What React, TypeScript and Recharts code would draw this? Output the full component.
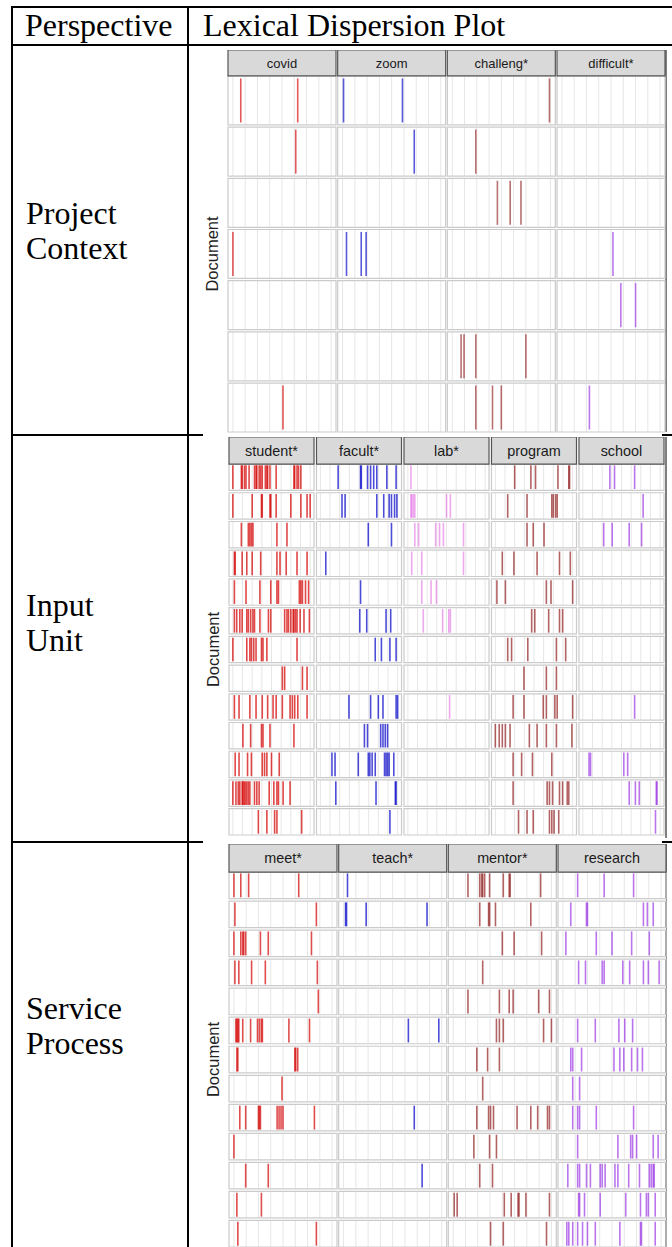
import React from "react";
import { ScatterChart, Scatter, XAxis, YAxis, CartesianGrid, ReferenceArea } from "recharts";

// ---------- table text ----------
const headerLabels = ["Perspective", "Lexical Dispersion Plot"];
const perspectiveLines = [["Project", "Context"], ["Input", "Unit"], ["Service", "Process"]];
const yAxisTitle = "Document";

// ---------- keywords ----------
const projectWords = ["covid", "zoom", "challeng*", "difficult*"];
const inputWords = ["student*", "facult*", "lab*", "program", "school"];
const serviceWords = ["meet*", "teach*", "mentor*", "research"];

// ---------- relative token positions (per document) ----------
// Project Context
const covidDocs = [[0.08, 0.66], [0.64], [], [0.0], [], [], [0.51]];
const zoomDocs = [[0.01, 0.61], [0.73], [], [0.04, 0.19, 0.24], [], [], []];
const challengDocs = [[0.99], [0.24], [0.46, 0.59, 0.7], [], [], [0.09, 0.12, 0.24, 0.75], [0.24, 0.41, 0.5]];
const difficultDocs = [[], [], [], [0.52], [0.6, 0.75], [], [0.28]];

// Input Unit
const studentDocs = [
  [0.0, 0.11, 0.12, 0.15, 0.17, 0.21, 0.28, 0.3, 0.31, 0.34, 0.36, 0.38, 0.42, 0.44, 0.45, 0.48, 0.56, 0.79, 0.8, 0.83, 0.85, 0.88],
  [0.0, 0.25, 0.37, 0.38, 0.48, 0.49, 0.56, 0.75, 0.88, 0.96, 1.0],
  [0.11, 0.2, 0.22, 0.24, 0.26, 0.57, 0.7],
  [0.02, 0.03, 0.12, 0.18, 0.25, 0.36, 0.57, 0.61, 0.69, 0.83, 0.96],
  [0.02, 0.17, 0.35, 0.49, 0.57, 0.59, 0.86, 0.88, 0.9, 0.94, 0.98],
  [0.02, 0.05, 0.09, 0.12, 0.18, 0.2, 0.23, 0.26, 0.28, 0.35, 0.46, 0.49, 0.67, 0.7, 0.72, 0.75, 0.78, 0.79, 0.81, 0.83, 0.87, 0.92, 0.99],
  [0.0, 0.18, 0.22, 0.24, 0.27, 0.3, 0.37, 0.39, 0.44, 0.83],
  [0.64, 0.67, 0.9, 0.96],
  [0.02, 0.08, 0.22, 0.3, 0.38, 0.45, 0.52, 0.56, 0.64, 0.74, 0.77, 0.8, 0.84, 0.96],
  [0.13, 0.23, 0.37, 0.39, 0.48, 0.79],
  [0.03, 0.08, 0.19, 0.24, 0.38, 0.41, 0.44, 0.5, 0.6],
  [0.0, 0.04, 0.07, 0.09, 0.12, 0.13, 0.145, 0.16, 0.18, 0.2, 0.22, 0.28, 0.31, 0.34, 0.47, 0.53, 0.57, 0.59, 0.65, 0.74],
  [0.33, 0.44, 0.54, 0.57, 0.89],
];
const facultDocs = [
  [0.23, 0.52, 0.53, 0.61, 0.65, 0.69, 0.73, 0.86, 0.98],
  [0.28, 0.32, 0.73, 0.82, 0.89, 0.92, 0.96, 0.99],
  [0.62, 0.92],
  [0.07],
  [0.52],
  [0.51, 0.6, 0.85, 0.91],
  [0.71, 0.79, 0.9, 0.98],
  [],
  [0.37, 0.65, 0.75, 0.81, 0.98, 1.0],
  [0.57, 0.61, 0.78, 0.81, 0.84, 0.87],
  [0.15, 0.19, 0.49, 0.62, 0.64, 0.67, 0.71, 0.83, 0.85, 0.87, 0.89, 0.95],
  [0.2, 0.72, 0.97, 0.98],
  [0.9],
];
const labDocs = [
  [0.04],
  [0.04, 0.05, 0.07, 0.09, 0.5, 0.55],
  [0.09, 0.14, 0.36, 0.41, 0.46, 0.72],
  [0.05, 0.18, 0.72],
  [0.18, 0.3, 0.37],
  [0.2, 0.45, 0.53, 0.55],
  [],
  [],
  [0.54],
  [],
  [],
  [],
  [],
];
const programDocs = [
  [0.25, 0.46, 0.52, 0.81, 0.95, 0.96],
  [0.16, 0.41, 0.73, 0.75, 0.78, 0.8],
  [0.41, 0.49, 0.63],
  [0.09, 0.24, 0.54, 0.83, 0.97],
  [0.02, 0.13, 0.66, 0.72, 1.0],
  [0.47, 0.51, 0.69, 0.83, 0.87],
  [0.16, 0.21, 0.42, 0.79, 0.91],
  [0.37, 0.66, 0.79],
  [0.23, 0.37, 0.62, 0.66, 0.77, 0.8, 1.0],
  [0.0, 0.05, 0.09, 0.13, 0.19, 0.44, 0.54, 0.66, 0.79, 0.99],
  [0.23, 0.34, 0.48, 0.73],
  [0.23, 0.67, 0.7, 0.74, 0.83, 0.87, 0.93, 0.95],
  [0.3, 0.41, 0.49, 0.7, 0.73, 0.76, 0.82],
];
const schoolDocs = [
  [0.35, 0.41, 0.67],
  [0.78],
  [0.27, 0.38, 0.6, 0.76],
  [],
  [],
  [],
  [],
  [],
  [0.67],
  [],
  [0.08, 0.1, 0.53, 0.58],
  [0.6, 0.68, 0.73, 0.95, 0.96],
  [0.94],
];

// Service Process
const meetDocs = [
  [0.0, 0.07, 0.15, 0.66],
  [0.01, 0.84],
  [0.0, 0.07, 0.09, 0.1, 0.12, 0.27, 0.35, 0.79],
  [0.01, 0.05, 0.18, 0.32, 0.85],
  [0.86],
  [0.02, 0.03, 0.04, 0.05, 0.09, 0.17, 0.24, 0.26, 0.28, 0.29, 0.56, 0.77],
  [0.03, 0.04, 0.62, 0.63, 0.65],
  [0.49],
  [0.06, 0.12, 0.25, 0.26, 0.27, 0.44, 0.46, 0.48, 0.5, 0.82],
  [0.0],
  [0.12, 0.35],
  [0.03, 0.28],
  [0.04, 0.84],
];
const teachDocs = [
  [0.04],
  [0.02, 0.03, 0.23, 0.85],
  [],
  [],
  [],
  [0.66, 0.97],
  [],
  [],
  [0.72],
  [],
  [0.8],
  [],
  [],
];
const mentorDocs = [
  [0.15, 0.27, 0.29, 0.3, 0.32, 0.37, 0.51, 0.57, 0.58, 0.89],
  [0.27, 0.36, 0.37, 0.43, 0.79],
  [0.5, 0.62, 0.9],
  [0.3],
  [0.15, 0.47, 0.57, 0.61, 0.87, 0.98],
  [0.44, 0.47, 0.51, 0.92, 1.0],
  [0.24, 0.35, 0.47],
  [0.3],
  [0.24, 0.36, 0.38, 0.41, 0.65, 0.79, 0.86, 0.96, 0.98],
  [0.21, 0.37, 0.44],
  [0.27, 0.4],
  [0.01, 0.04, 0.52, 0.59, 0.66, 0.67, 0.74, 0.98],
  [0.38, 0.51, 0.95],
];
const researchDocs = [
  [0.15, 0.42, 0.72],
  [0.08, 0.24, 0.25, 0.82, 0.86, 0.92],
  [0.03, 0.34, 0.5, 0.7, 0.88],
  [0.16, 0.23, 0.4, 0.42, 0.61, 0.68, 0.82, 0.87, 0.98],
  [],
  [0.15, 0.33, 0.57, 0.63, 0.71],
  [0.08, 0.1, 0.19, 0.52, 0.58, 0.62, 0.7, 0.76, 0.81],
  [0.1, 0.17],
  [0.1, 0.15, 0.17, 0.34, 0.72],
  [0.15, 0.56, 0.69, 0.71, 0.75, 0.92, 0.97],
  [0.05, 0.15, 0.17, 0.24, 0.28, 0.38, 0.4, 0.43, 0.53, 0.56, 0.67, 0.78, 0.88, 0.9, 0.92, 0.93],
  [0.16, 0.17, 0.22, 0.38, 0.64, 0.79, 0.85, 0.87, 0.94],
  [0.04, 0.06, 0.1, 0.15, 0.2, 0.25, 0.33, 0.58, 0.79, 0.8, 0.94],
];

const majorBreaks = [0, 0.25, 0.5, 0.75, 1];
const gridBreaks = [0, 0.125, 0.25, 0.375, 0.5, 0.625, 0.75, 0.875, 1];

// ---------- colours ----------
const RED = "#d40000";
const BLUE = "#0000c8";
const DARKRED = "#8b1010";
const PURPLE = "#9020e0";
const VIOLET = "#e060e0";

type Facet = { word: string; color: string; opacity: number; docs: number[][] };

const projectFacets: Facet[] = [
  { word: projectWords[0], color: RED, opacity: 0.65, docs: covidDocs },
  { word: projectWords[1], color: BLUE, opacity: 0.65, docs: zoomDocs },
  { word: projectWords[2], color: DARKRED, opacity: 0.6, docs: challengDocs },
  { word: projectWords[3], color: PURPLE, opacity: 0.6, docs: difficultDocs },
];
const inputFacets: Facet[] = [
  { word: inputWords[0], color: RED, opacity: 0.72, docs: studentDocs },
  { word: inputWords[1], color: BLUE, opacity: 0.7, docs: facultDocs },
  { word: inputWords[2], color: VIOLET, opacity: 0.55, docs: labDocs },
  { word: inputWords[3], color: DARKRED, opacity: 0.65, docs: programDocs },
  { word: inputWords[4], color: PURPLE, opacity: 0.62, docs: schoolDocs },
];
const serviceFacets: Facet[] = [
  { word: serviceWords[0], color: RED, opacity: 0.7, docs: meetDocs },
  { word: serviceWords[1], color: BLUE, opacity: 0.7, docs: teachDocs },
  { word: serviceWords[2], color: DARKRED, opacity: 0.65, docs: mentorDocs },
  { word: serviceWords[3], color: PURPLE, opacity: 0.62, docs: researchDocs },
];

type PlotCfg = {
  left: number;
  top: number;
  axisW: number;
  plotW: number;
  plotH: number;
  facets: Facet[];
  gapX: number;
  gapY: number;
  strip: number;
  stripFont: number;
  labelFont: number;
};

const SANS = "'Liberation Sans', Arial, sans-serif";
const SERIF = "'Liberation Serif', 'Times New Roman', serif";

function DispersionPlot({ cfg }: { cfg: PlotCfg }) {
  const { facets, gapX, gapY, strip } = cfg;
  const nDocs = facets[0].docs.length;
  const PW = 1.1;
  const xTotal = facets.length * PW + (facets.length - 1) * gapX;
  const yTotal = nDocs + (nDocs - 1) * gapY;
  const pxPerY = cfg.plotH / (strip + yTotal);
  const lineH = pxPerY * 0.9;
  const fx = (k: number) => k * (PW + gapX);
  const ry = (r: number) => r * (1 + gapY);
  const tickH = 4;

  const majorTicks = facets.flatMap((_, k) => majorBreaks.map((b) => fx(k) + 0.05 + b));
  const gridVals = facets.flatMap((_, k) => gridBreaks.map((b) => fx(k) + 0.05 + b));

  const gen = (props: any) => {
    const xa = props && props.xAxis;
    const off = props && props.offset;
    if (xa && typeof xa.scale === "function") return gridVals.map((v) => xa.scale(v));
    return gridVals.map((v) => off.left + (v / xTotal) * off.width);
  };

  const renderLabel = (props: any) => {
    const vb = props.viewBox || { x: 0, y: 0, width: cfg.axisW, height: cfg.plotH };
    const bx = vb.x + 15;
    const cy = vb.y + strip * pxPerY + (yTotal * pxPerY) / 2;
    return (
      <text
        x={bx}
        y={cy}
        transform={`rotate(-90 ${bx} ${cy})`}
        textAnchor="middle"
        fontFamily={SANS}
        fontSize={cfg.labelFont}
        fill="#222"
      >
        {yAxisTitle}
      </text>
    );
  };

  const gapMasks = [];
  for (let r = 0; r < nDocs - 1; r++) {
    gapMasks.push(
      <ReferenceArea
        key={`gap-${r}`}
        x1={0}
        x2={xTotal}
        y1={ry(r) + 1}
        y2={ry(r + 1)}
        fill="#ffffff"
        fillOpacity={1}
        stroke="none"
        ifOverflow="visible"
      />
    );
  }

  const cells = [];
  for (let k = 0; k < facets.length; k++) {
    for (let r = 0; r < nDocs; r++) {
      cells.push(
        <ReferenceArea
          key={`cell-${k}-${r}`}
          x1={fx(k)}
          x2={fx(k) + PW}
          y1={ry(r)}
          y2={ry(r) + 1}
          fill="#ffffff"
          fillOpacity={0}
          stroke="#cbcbcb"
          strokeWidth={1.2}
          ifOverflow="visible"
        />
      );
    }
  }

  const strips = facets.map((f, k) => (
    <ReferenceArea
      key={`strip-${k}`}
      x1={fx(k)}
      x2={fx(k) + PW}
      y1={-strip}
      y2={0}
      fill="#d9d9d9"
      fillOpacity={1}
      stroke="#555555"
      strokeWidth={1.2}
      ifOverflow="visible"
      label={{ value: f.word, position: "center", fill: "#1a1a1a", fontSize: cfg.stripFont, fontFamily: SANS }}
    />
  ));

  return (
    <div style={{ position: "absolute", left: cfg.left, top: cfg.top }}>
      <ScatterChart
        width={cfg.axisW + cfg.plotW + 2}
        height={cfg.plotH + tickH}
        margin={{ top: 0, right: 2, bottom: 0, left: 0 }}
      >
        <CartesianGrid horizontal={false} stroke="#e6e6e6" strokeWidth={1} verticalCoordinatesGenerator={gen} />
        <XAxis
          type="number"
          dataKey="x"
          domain={[0, xTotal]}
          allowDataOverflow
          ticks={majorTicks}
          interval={0}
          tick={false}
          tickLine={{ stroke: "#444", strokeWidth: 1 }}
          tickSize={tickH}
          axisLine={false}
          height={tickH}
        />
        <YAxis
          type="number"
          dataKey="y"
          domain={[-strip, yTotal]}
          allowDataOverflow
          reversed
          tick={false}
          tickLine={false}
          axisLine={false}
          width={cfg.axisW}
          label={renderLabel}
        />
        {gapMasks}
        {cells}
        {strips}
        {facets.map((f, k) => (
          <Scatter
            key={`s-${k}`}
            name={f.word}
            data={f.docs.flatMap((arr, r) => arr.map((v) => ({ x: fx(k) + 0.05 + v, y: ry(r) + 0.5 })))}
            isAnimationActive={false}
            shape={(p: any) => (
              <line
                x1={p.cx}
                x2={p.cx}
                y1={p.cy - lineH / 2}
                y2={p.cy + lineH / 2}
                stroke={f.color}
                strokeOpacity={f.opacity}
                strokeWidth={1.6}
              />
            )}
          />
        ))}
      </ScatterChart>
    </div>
  );
}

const plotConfigs: PlotCfg[] = [
  { left: 203, top: 50, axisW: 25, plotW: 437, plotH: 382, facets: projectFacets, gapX: 0.017, gapY: 0.045, strip: 0.53, stripFont: 13, labelFont: 16.5 },
  { left: 204, top: 437, axisW: 25, plotW: 435, plotH: 398, facets: inputFacets, gapX: 0.032, gapY: 0.091, strip: 1.027, stripFont: 14.4, labelFont: 16.5 },
  { left: 204, top: 844, axisW: 25, plotW: 437, plotH: 403, facets: serviceFacets, gapX: 0.017, gapY: 0.094, strip: 1.057, stripFont: 14.4, labelFont: 16.5 },
];

const rowLabelBaselines = [[224, 259], [616, 651], [1019, 1054]];
const rightEdgeSpans = [[50, 432], [437, 838], [844, 1247]];

export default function App() {
  return (
    <div style={{ position: "absolute", left: 0, top: 0, width: 672, height: 1247, overflow: "hidden", background: "#fff" }}>
      <svg width={672} height={1247} style={{ position: "absolute", left: 0, top: 0 }}>
        {/* table rules */}
        <line x1={11} x2={672} y1={7} y2={7} stroke="#000" strokeWidth={2} />
        <line x1={11} x2={672} y1={45} y2={45} stroke="#000" strokeWidth={2} />
        <line x1={11} x2={203} y1={435} y2={435} stroke="#000" strokeWidth={2} />
        <line x1={662} x2={672} y1={435} y2={435} stroke="#000" strokeWidth={2} />
        <line x1={11} x2={203} y1={842} y2={842} stroke="#000" strokeWidth={2} />
        <line x1={662} x2={672} y1={842} y2={842} stroke="#000" strokeWidth={2} />
        <line x1={12} x2={12} y1={6} y2={1247} stroke="#000" strokeWidth={2} />
        <line x1={188} x2={188} y1={6} y2={1247} stroke="#000" strokeWidth={2} />
        {rightEdgeSpans.map((s, i) => (
          <line key={i} x1={666} x2={666} y1={s[0]} y2={s[1]} stroke="#555" strokeWidth={1.5} />
        ))}
        <text x={25} y={36} fontFamily={SERIF} fontSize={32} fill="#000">
          {headerLabels[0]}
        </text>
        <text x={203} y={36} fontFamily={SERIF} fontSize={32} fill="#000">
          {headerLabels[1]}
        </text>
        {perspectiveLines.map((lines, i) =>
          lines.map((t, j) => (
            <text key={`${i}-${j}`} x={26} y={rowLabelBaselines[i][j]} fontFamily={SERIF} fontSize={32} fill="#000">
              {t}
            </text>
          ))
        )}
      </svg>
      {plotConfigs.map((cfg, i) => (
        <DispersionPlot key={i} cfg={cfg} />
      ))}
    </div>
  );
}
